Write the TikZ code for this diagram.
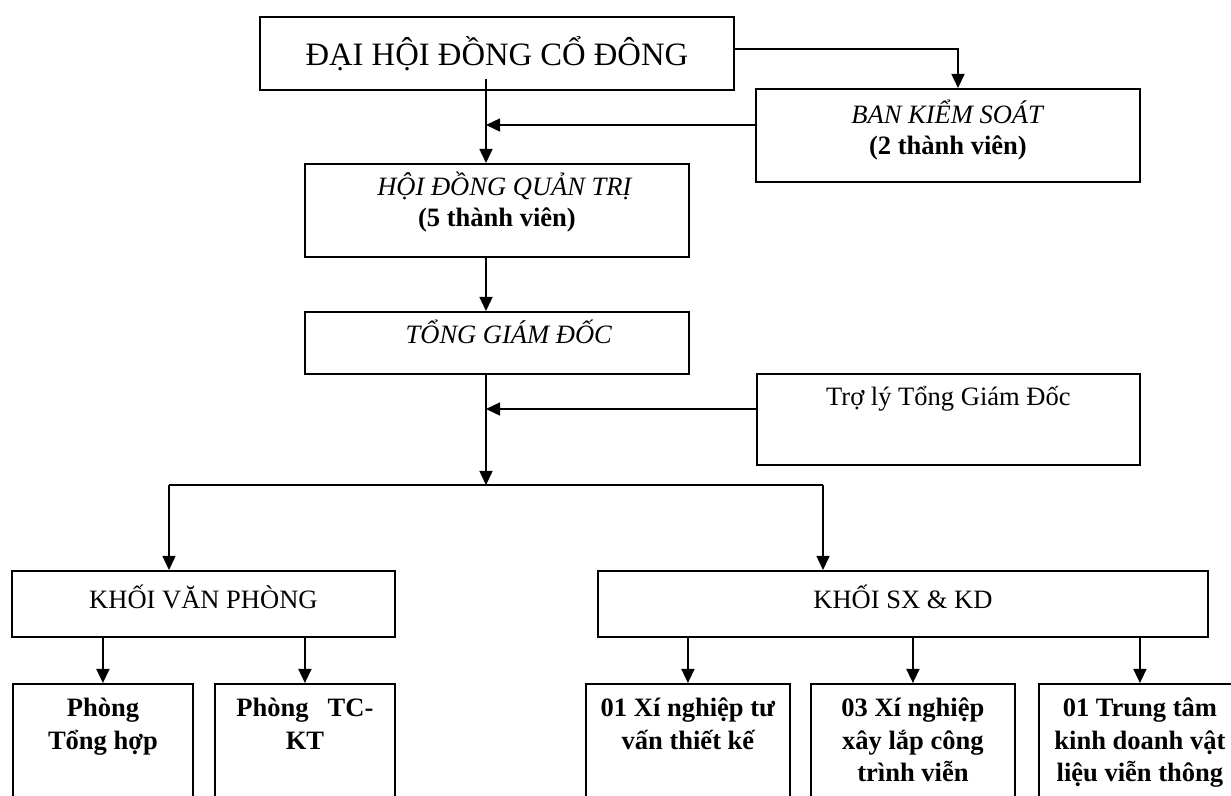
\documentclass[tikz,border=0pt]{standalone}
\usepackage{fontspec}
\setmainfont{Liberation Serif}
\usetikzlibrary{arrows.meta,calc}

\newlength\px
\setlength\px{0.49pt}
% box body: width, height, first baseline below top (all in px), text
\newcommand{\boxbody}[4]{\parbox[c][#2\px][t]{#1\px}{\centering\rule{0pt}{#3\px}#4\par}}

\tikzset{
  orgbox/.style={draw, line width=0.9pt, inner sep=0pt, anchor=north west,
    font=\fontsize{13pt}{14.8pt}\selectfont},
  titlebox/.style={orgbox, font=\fontsize{16pt}{19pt}\selectfont},
  unitbox/.style={orgbox, font=\fontsize{13pt}{15.9pt}\selectfont\bfseries},
  arr/.style={line width=0.75pt, -{Triangle[length=6.9pt,width=6.4pt]}},
  link/.style={line width=0.75pt}
}

\begin{document}
\begin{tikzpicture}[x=0.49pt,y=-0.49pt]
\useasboundingbox (0,0) rectangle (1231,795);
\clip (0,0) rectangle (1231,795);

% boxes
\node[titlebox] (dhd) at (259,16) {\boxbody{474}{73}{49}{ĐẠI HỘI ĐỒNG CỔ ĐÔNG}};
\node[orgbox] (bks) at (755,88) {\boxbody{384}{93}{35}{\textit{BAN KIỂM SOÁT}\\ \textbf{(2 thành viên)}}};
\node[orgbox] (hdqt) at (304,163) {\boxbody{384}{93}{32}{\hspace*{16\px}\textit{HỘI ĐỒNG QUẢN TRỊ}\\ \textbf{(5 thành viên)}}};
\node[orgbox] (tgd) at (304,311) {\boxbody{384}{62}{32}{\hspace*{24\px}\textit{TỔNG GIÁM ĐỐC}}};
\node[orgbox] (tly) at (756,373) {\boxbody{383}{91}{32}{Trợ lý Tổng Giám Đốc}};
\node[orgbox] (kvp) at (11,570) {\boxbody{383}{66}{38}{KHỐI VĂN PHÒNG}};
\node[orgbox] (ksx) at (597,570) {\boxbody{610}{66}{38}{KHỐI SX \& KD}};

\node[unitbox] (p1) at (12,683) {\boxbody{180}{200}{33}{Phòng\\ Tổng hợp}};
\node[unitbox] (p2) at (214,683) {\boxbody{180}{200}{33}{\makebox[137\px][s]{Phòng TC-}\\ KT}};
\node[unitbox] (x1) at (585,683) {\boxbody{204}{200}{33}{01 Xí nghiệp tư\\ vấn thiết kế}};
\node[unitbox] (x2) at (810,683) {\boxbody{204}{200}{33}{03 Xí nghiệp\\ xây lắp công\\ trình viễn}};
\node[unitbox] (tt) at (1038,683) {\boxbody{202}{200}{33}{01 Trung tâm\\ kinh doanh vật\\ liệu viễn thông}};

% junctions
\coordinate (bk) at (958,49);
\coordinate (j1) at (486,125);
\coordinate (j2) at (486,409);
\coordinate (jc) at (486,485);
\coordinate (jl) at (169,485);
\coordinate (jr) at (823,485);

% connectors
\draw[arr] (dhd.east |- bk) -- (bk) -- (bk |- bks.north);
\draw[arr] ($(j1 |- dhd.south)+(0,-12)$) -- (j1 |- hdqt.north);
\draw[arr] (bks.west |- j1) -- (j1);
\draw[arr] (j1 |- hdqt.south) -- (j1 |- tgd.north);
\draw[arr] (jc |- tgd.south) -- (jc);
\draw[arr] (tly.west |- j2) -- (j2);
\draw[link] (jl) -- (jr);
\draw[arr] (jl) -- (jl |- kvp.north);
\draw[arr] (jr) -- (jr |- ksx.north);

\draw[arr] (p1.north |- kvp.south) -- (p1.north);
\draw[arr] (p2.north |- kvp.south) -- (p2.north);
\draw[arr] (x1.north |- ksx.south) -- (x1.north);
\draw[arr] (x2.north |- ksx.south) -- (x2.north);
\draw[arr] (tt.north |- ksx.south) -- (tt.north);
\end{tikzpicture}
\end{document}
